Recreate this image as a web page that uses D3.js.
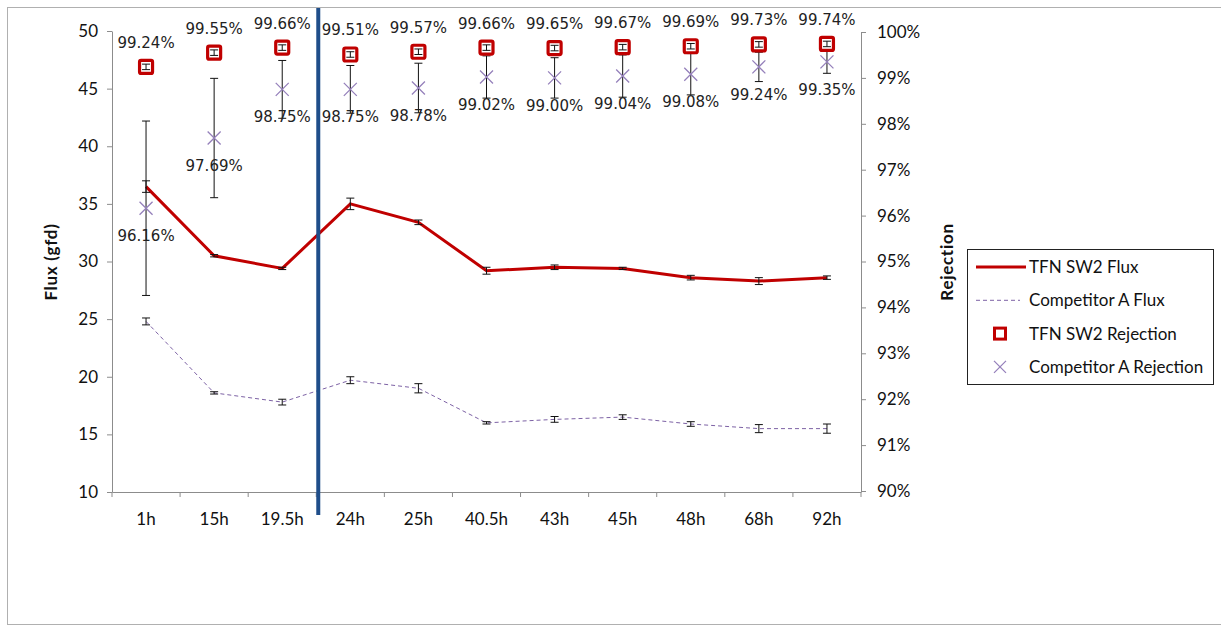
<!DOCTYPE html>
<html><head><meta charset="utf-8">
<script src="https://cdn.jsdelivr.net/npm/d3@7"></script>
<style>body{margin:0;background:#fff}svg{display:block}</style>
</head><body>
<svg id="c" width="1221" height="626"></svg>
<script>
const categories = ["1h","15h","19.5h","24h","25h","40.5h","43h","45h","48h","68h","92h"];
const tfnFlux    = [36.5,30.5,29.4,35.0,33.4,29.2,29.5,29.4,28.6,28.3,28.6];
const tfnFluxErr = [0.5,0.1,0.1,0.5,0.2,0.3,0.2,0.1,0.2,0.3,0.15];
const compFlux    = [24.8,18.6,17.8,19.7,19.0,16.0,16.3,16.5,15.9,15.5,15.5];
const compFluxErr = [0.3,0.1,0.25,0.3,0.4,0.1,0.25,0.2,0.2,0.35,0.4];
const tfnRej    = [99.24,99.55,99.66,99.51,99.57,99.66,99.65,99.67,99.69,99.73,99.74];
const tfnRejErr = [0.06,0.06,0.06,0.06,0.06,0.06,0.06,0.06,0.06,0.06,0.06];
const compRej    = [96.16,97.69,98.75,98.75,98.78,99.02,99.00,99.04,99.08,99.24,99.35];
const compRejErr = [1.9,1.3,0.63,0.52,0.54,0.46,0.44,0.46,0.45,0.32,0.25];
const fluxTicks = [10,15,20,25,30,35,40,45,50];
const rejTicks = [90,91,92,93,94,95,96,97,98,99,100];
const legendItems = ["TFN SW2 Flux","Competitor A Flux","TFN SW2 Rejection","Competitor A Rejection"];

const svg = d3.select("#c");
const red = "#c00000", purple = "#7d62a5", xcol = "#9580bb", axisCol = "#8c8c8c";
const tickFont = "Lato, 'Open Sans', sans-serif";
const lblFont = "'DejaVu Sans', Verdana, sans-serif";

// outer border
svg.append("rect").attr("x",7.5).attr("y",7.5).attr("width",1230).attr("height",617)
  .attr("fill","none").attr("stroke","#b0b0b0");

const x = d3.scaleBand().domain(categories).range([112,861]);
const cx = c => x(c) + x.bandwidth()/2;
const yL = d3.scaleLinear().domain([10,50]).range([492,31]);
const yR = d3.scaleLinear().domain([90,100]).range([491,32]);

// left axis
const gL = svg.append("g").attr("transform","translate(112,0)")
  .call(d3.axisLeft(yL).tickValues(fluxTicks).tickSize(5).tickSizeOuter(0));
gL.select(".domain").attr("stroke",axisCol);
gL.selectAll(".tick line").attr("stroke",axisCol);
gL.selectAll(".tick text").attr("font-family",tickFont).attr("font-size",17).attr("fill","#111").attr("x",-14);

// right axis
const gR = svg.append("g").attr("transform","translate(861,0)")
  .call(d3.axisRight(yR).tickValues(rejTicks).tickFormat(d=>d+"%").tickSize(5).tickSizeOuter(0));
gR.select(".domain").attr("stroke",axisCol);
gR.selectAll(".tick line").attr("stroke",axisCol);
gR.selectAll(".tick text").attr("font-family",tickFont).attr("font-size",17).attr("fill","#111").attr("x",16);

// bottom axis
const gB = svg.append("g").attr("transform","translate(0,492)")
  .call(d3.axisBottom(x).tickSize(0).tickSizeOuter(0));
gB.select(".domain").attr("stroke",axisCol);
gB.selectAll(".tick text").attr("font-family",tickFont).attr("font-size",17).attr("fill","#111").attr("dy","1.75em");
const bounds = categories.map(c=>x(c)).concat([x(categories[categories.length-1])+x.bandwidth()]);
svg.append("g").selectAll("line").data(bounds).join("line")
  .attr("x1",d=>d).attr("x2",d=>d).attr("y1",492).attr("y2",497).attr("stroke",axisCol);

// axis titles
svg.append("text").attr("transform","translate(57,262) rotate(-90)").attr("text-anchor","middle")
  .attr("font-family",tickFont).attr("font-weight","bold").attr("font-size",17).attr("letter-spacing",0.7)
  .attr("fill","#111").text("Flux (gfd)");
svg.append("text").attr("transform","translate(953,262) rotate(-90)").attr("text-anchor","middle")
  .attr("font-family",tickFont).attr("font-weight","bold").attr("font-size",17).attr("letter-spacing",0.7)
  .attr("fill","#111").text("Rejection");

// error bar helper
function errBars(vals, errs, scale, cap){
  const g = svg.append("g").attr("stroke","#111").attr("stroke-width",1);
  categories.forEach((c,i)=>{
    const px = cx(c), y1 = scale(vals[i]-errs[i]), y2 = scale(vals[i]+errs[i]);
    g.append("line").attr("x1",px).attr("x2",px).attr("y1",y1).attr("y2",y2);
    g.append("line").attr("x1",px-cap).attr("x2",px+cap).attr("y1",y1).attr("y2",y1);
    g.append("line").attr("x1",px-cap).attr("x2",px+cap).attr("y1",y2).attr("y2",y2);
  });
}

// flux lines
const lineL = d3.line().x((d,i)=>cx(categories[i])).y(d=>yL(d));
svg.append("path").datum(compFlux).attr("d",lineL).attr("fill","none")
  .attr("stroke",purple).attr("stroke-width",1).attr("stroke-dasharray","4,3");
errBars(compFlux, compFluxErr, yL, 4);
svg.append("path").datum(tfnFlux).attr("d",lineL).attr("fill","none")
  .attr("stroke",red).attr("stroke-width",3);
errBars(tfnFlux, tfnFluxErr, yL, 4);

// competitor rejection
errBars(compRej, compRejErr, yR, 4);
const xs = 6.5;
svg.append("g").selectAll("path").data(compRej).join("path")
  .attr("d",(d,i)=>{const px=cx(categories[i]), py=yR(d);
    return `M${px-xs},${py-xs}L${px+xs},${py+xs}M${px-xs},${py+xs}L${px+xs},${py-xs}`;})
  .attr("stroke",xcol).attr("stroke-width",1.3).attr("fill","none");

// TFN rejection
svg.append("g").selectAll("rect").data(tfnRej).join("rect")
  .attr("x",(d,i)=>cx(categories[i])-6.5).attr("y",d=>yR(d)-6.5)
  .attr("width",13).attr("height",13).attr("rx",1.5)
  .attr("fill","#fff").attr("stroke",red).attr("stroke-width",3.2);
errBars(tfnRej, tfnRejErr, yR, 4);

// divider
const divX = x("24h") + 2;
svg.append("line").attr("x1",divX).attr("x2",divX).attr("y1",8).attr("y2",515)
  .attr("stroke","#1f4e8a").attr("stroke-width",4);

// labels
svg.append("g").selectAll("text").data(tfnRej).join("text")
  .attr("x",(d,i)=>cx(categories[i])).attr("y",d=>yR(d)-19).attr("text-anchor","middle")
  .attr("font-family",lblFont).attr("font-size",15).attr("fill","#222").text(d=>d.toFixed(2)+"%");
svg.append("g").selectAll("text").data(compRej).join("text")
  .attr("x",(d,i)=>cx(categories[i])).attr("y",d=>yR(d)+33).attr("text-anchor","middle")
  .attr("font-family",lblFont).attr("font-size",15).attr("fill","#222").text(d=>d.toFixed(2)+"%");

// legend
const lg = svg.append("g");
lg.append("rect").attr("x",967.5).attr("y",249.5).attr("width",246).attr("height",135)
  .attr("fill","#fff").attr("stroke","#222");
const ly = i => 267 + i*33.3;
legendItems.forEach((t,i)=>{
  lg.append("text").attr("x",1029).attr("y",ly(i)+6).attr("font-family",tickFont)
    .attr("font-size",17).attr("fill","#111").text(t);
});
lg.append("line").attr("x1",976).attr("x2",1026).attr("y1",ly(0)).attr("y2",ly(0)).attr("stroke",red).attr("stroke-width",3);
lg.append("line").attr("x1",976).attr("x2",1020).attr("y1",ly(1)).attr("y2",ly(1)).attr("stroke",purple).attr("stroke-width",1).attr("stroke-dasharray","4,3");
lg.append("rect").attr("x",1000-5.5).attr("y",ly(2)-5.5).attr("width",11).attr("height",11)
  .attr("fill","#fff").attr("stroke",red).attr("stroke-width",3);
lg.append("path").attr("d",`M${1000-6},${ly(3)-6}L${1006},${ly(3)+6}M${994},${ly(3)+6}L${1006},${ly(3)-6}`)
  .attr("stroke",xcol).attr("stroke-width",1.3);
</script>
</body></html>
